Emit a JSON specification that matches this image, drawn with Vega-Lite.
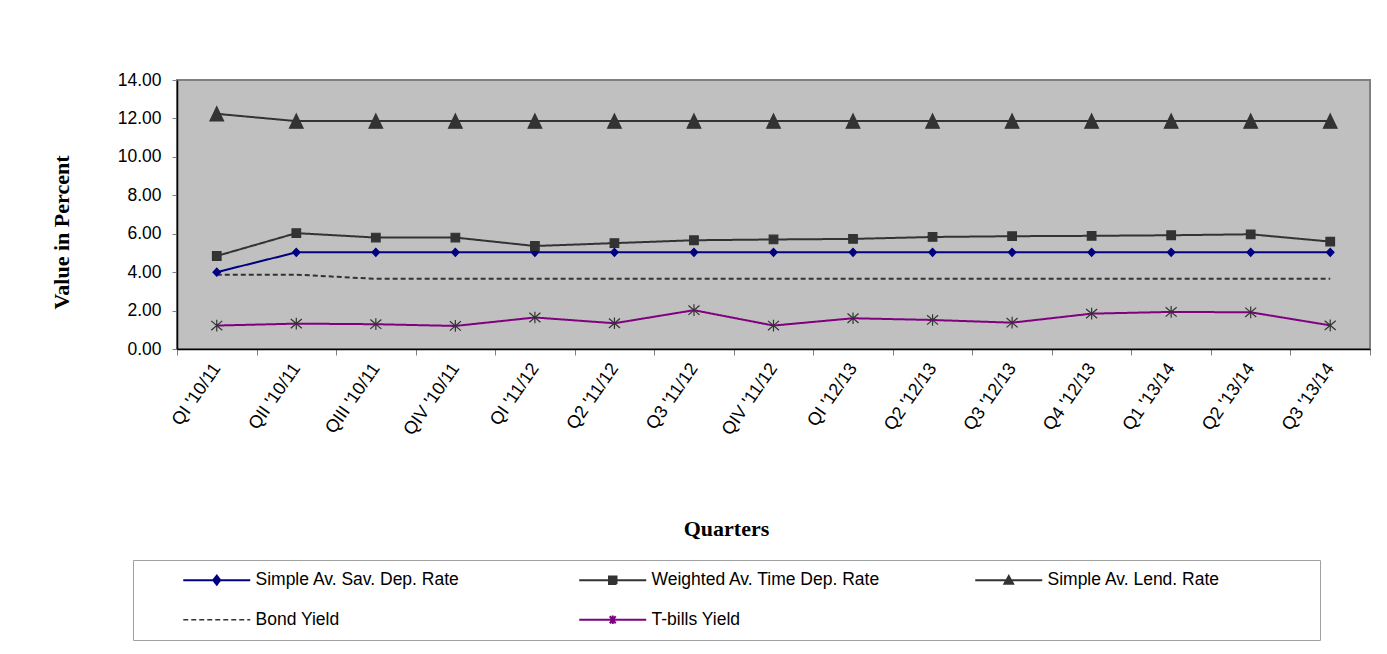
{
  "$schema": "https://vega.github.io/schema/vega-lite/v6.json",
  "autosize": {"type": "none"},
  "padding": {"left": 177, "top": 80, "right": 17, "bottom": 305},
  "width": 1193,
  "height": 269,
  "background": "white",
  "config": {
    "font": "Liberation Sans",
    "view": {"fill": "#c0c0c0", "stroke": "#808080", "strokeWidth": 2},
    "axis": {
      "domainColor": "#000000",
      "domainWidth": 1.5,
      "tickColor": "#808080",
      "tickWidth": 1,
      "labelColor": "#000000",
      "labelFont": "Liberation Sans",
      "labelFontSize": 17.5,
      "titleColor": "#000000",
      "titleFont": "Liberation Serif",
      "titleFontSize": 22,
      "titleFontWeight": "bold",
      "grid": false
    }
  },
  "data": {
    "values": [
      {"quarter": "QI '10/11", "series": "Simple Av. Sav. Dep. Rate", "value": 4.00},
      {"quarter": "QII '10/11", "series": "Simple Av. Sav. Dep. Rate", "value": 5.03},
      {"quarter": "QIII '10/11", "series": "Simple Av. Sav. Dep. Rate", "value": 5.03},
      {"quarter": "QIV '10/11", "series": "Simple Av. Sav. Dep. Rate", "value": 5.03},
      {"quarter": "QI '11/12", "series": "Simple Av. Sav. Dep. Rate", "value": 5.03},
      {"quarter": "Q2 '11/12", "series": "Simple Av. Sav. Dep. Rate", "value": 5.03},
      {"quarter": "Q3 '11/12", "series": "Simple Av. Sav. Dep. Rate", "value": 5.03},
      {"quarter": "QIV '11/12", "series": "Simple Av. Sav. Dep. Rate", "value": 5.03},
      {"quarter": "QI '12/13", "series": "Simple Av. Sav. Dep. Rate", "value": 5.03},
      {"quarter": "Q2 '12/13", "series": "Simple Av. Sav. Dep. Rate", "value": 5.03},
      {"quarter": "Q3 '12/13", "series": "Simple Av. Sav. Dep. Rate", "value": 5.03},
      {"quarter": "Q4 '12/13", "series": "Simple Av. Sav. Dep. Rate", "value": 5.03},
      {"quarter": "Q1 '13/14", "series": "Simple Av. Sav. Dep. Rate", "value": 5.03},
      {"quarter": "Q2 '13/14", "series": "Simple Av. Sav. Dep. Rate", "value": 5.03},
      {"quarter": "Q3 '13/14", "series": "Simple Av. Sav. Dep. Rate", "value": 5.03},

      {"quarter": "QI '10/11", "series": "Weighted Av. Time Dep. Rate", "value": 4.84},
      {"quarter": "QII '10/11", "series": "Weighted Av. Time Dep. Rate", "value": 6.03},
      {"quarter": "QIII '10/11", "series": "Weighted Av. Time Dep. Rate", "value": 5.80},
      {"quarter": "QIV '10/11", "series": "Weighted Av. Time Dep. Rate", "value": 5.80},
      {"quarter": "QI '11/12", "series": "Weighted Av. Time Dep. Rate", "value": 5.36},
      {"quarter": "Q2 '11/12", "series": "Weighted Av. Time Dep. Rate", "value": 5.51},
      {"quarter": "Q3 '11/12", "series": "Weighted Av. Time Dep. Rate", "value": 5.66},
      {"quarter": "QIV '11/12", "series": "Weighted Av. Time Dep. Rate", "value": 5.70},
      {"quarter": "QI '12/13", "series": "Weighted Av. Time Dep. Rate", "value": 5.73},
      {"quarter": "Q2 '12/13", "series": "Weighted Av. Time Dep. Rate", "value": 5.83},
      {"quarter": "Q3 '12/13", "series": "Weighted Av. Time Dep. Rate", "value": 5.87},
      {"quarter": "Q4 '12/13", "series": "Weighted Av. Time Dep. Rate", "value": 5.89},
      {"quarter": "Q1 '13/14", "series": "Weighted Av. Time Dep. Rate", "value": 5.92},
      {"quarter": "Q2 '13/14", "series": "Weighted Av. Time Dep. Rate", "value": 5.97},
      {"quarter": "Q3 '13/14", "series": "Weighted Av. Time Dep. Rate", "value": 5.59},

      {"quarter": "QI '10/11", "series": "Simple Av. Lend. Rate", "value": 12.24},
      {"quarter": "QII '10/11", "series": "Simple Av. Lend. Rate", "value": 11.86},
      {"quarter": "QIII '10/11", "series": "Simple Av. Lend. Rate", "value": 11.86},
      {"quarter": "QIV '10/11", "series": "Simple Av. Lend. Rate", "value": 11.86},
      {"quarter": "QI '11/12", "series": "Simple Av. Lend. Rate", "value": 11.86},
      {"quarter": "Q2 '11/12", "series": "Simple Av. Lend. Rate", "value": 11.86},
      {"quarter": "Q3 '11/12", "series": "Simple Av. Lend. Rate", "value": 11.86},
      {"quarter": "QIV '11/12", "series": "Simple Av. Lend. Rate", "value": 11.86},
      {"quarter": "QI '12/13", "series": "Simple Av. Lend. Rate", "value": 11.86},
      {"quarter": "Q2 '12/13", "series": "Simple Av. Lend. Rate", "value": 11.86},
      {"quarter": "Q3 '12/13", "series": "Simple Av. Lend. Rate", "value": 11.86},
      {"quarter": "Q4 '12/13", "series": "Simple Av. Lend. Rate", "value": 11.86},
      {"quarter": "Q1 '13/14", "series": "Simple Av. Lend. Rate", "value": 11.86},
      {"quarter": "Q2 '13/14", "series": "Simple Av. Lend. Rate", "value": 11.86},
      {"quarter": "Q3 '13/14", "series": "Simple Av. Lend. Rate", "value": 11.86},

      {"quarter": "QI '10/11", "series": "Bond Yield", "value": 3.87},
      {"quarter": "QII '10/11", "series": "Bond Yield", "value": 3.87},
      {"quarter": "QIII '10/11", "series": "Bond Yield", "value": 3.65},
      {"quarter": "QIV '10/11", "series": "Bond Yield", "value": 3.65},
      {"quarter": "QI '11/12", "series": "Bond Yield", "value": 3.65},
      {"quarter": "Q2 '11/12", "series": "Bond Yield", "value": 3.65},
      {"quarter": "Q3 '11/12", "series": "Bond Yield", "value": 3.65},
      {"quarter": "QIV '11/12", "series": "Bond Yield", "value": 3.65},
      {"quarter": "QI '12/13", "series": "Bond Yield", "value": 3.65},
      {"quarter": "Q2 '12/13", "series": "Bond Yield", "value": 3.65},
      {"quarter": "Q3 '12/13", "series": "Bond Yield", "value": 3.65},
      {"quarter": "Q4 '12/13", "series": "Bond Yield", "value": 3.65},
      {"quarter": "Q1 '13/14", "series": "Bond Yield", "value": 3.65},
      {"quarter": "Q2 '13/14", "series": "Bond Yield", "value": 3.65},
      {"quarter": "Q3 '13/14", "series": "Bond Yield", "value": 3.65},

      {"quarter": "QI '10/11", "series": "T-bills Yield", "value": 1.22},
      {"quarter": "QII '10/11", "series": "T-bills Yield", "value": 1.32},
      {"quarter": "QIII '10/11", "series": "T-bills Yield", "value": 1.29},
      {"quarter": "QIV '10/11", "series": "T-bills Yield", "value": 1.20},
      {"quarter": "QI '11/12", "series": "T-bills Yield", "value": 1.64},
      {"quarter": "Q2 '11/12", "series": "T-bills Yield", "value": 1.34},
      {"quarter": "Q3 '11/12", "series": "T-bills Yield", "value": 2.02},
      {"quarter": "QIV '11/12", "series": "T-bills Yield", "value": 1.22},
      {"quarter": "QI '12/13", "series": "T-bills Yield", "value": 1.60},
      {"quarter": "Q2 '12/13", "series": "T-bills Yield", "value": 1.51},
      {"quarter": "Q3 '12/13", "series": "T-bills Yield", "value": 1.37},
      {"quarter": "Q4 '12/13", "series": "T-bills Yield", "value": 1.84},
      {"quarter": "Q1 '13/14", "series": "T-bills Yield", "value": 1.93},
      {"quarter": "Q2 '13/14", "series": "T-bills Yield", "value": 1.91},
      {"quarter": "Q3 '13/14", "series": "T-bills Yield", "value": 1.23}
    ]
  },
  "encoding": {
    "x": {
      "field": "quarter",
      "type": "ordinal",
      "sort": null,
      "bandPosition": 0.5,
      "scale": {"type": "band", "paddingInner": 0, "paddingOuter": 0},
      "axis": {
        "title": "Quarters",
        "labelAngle": -55,
        "labelFontSize": 18,
        "labelPadding": 10,
        "tickBand": "extent",
        "tickSize": 6,
        "titleX": 549,
        "titleY": 186,
        "titleBaseline": "alphabetic"
      }
    },
    "y": {
      "field": "value",
      "type": "quantitative",
      "scale": {"domain": [0, 14], "nice": false, "zero": true},
      "axis": {
        "title": "Value in Percent",
        "values": [0, 2, 4, 6, 8, 10, 12, 14],
        "format": ".2f",
        "tickSize": 5,
        "labelPadding": 11,
        "titleX": -109,
        "titleY": 152,
        "titleAlign": "center",
        "titleBaseline": "alphabetic"
      }
    }
  },
  "layer": [
    {
      "mark": {"type": "line", "strokeWidth": 2},
      "encoding": {
        "color": {
          "field": "series",
          "type": "nominal",
          "scale": {
            "domain": ["Simple Av. Sav. Dep. Rate", "Weighted Av. Time Dep. Rate", "Simple Av. Lend. Rate", "Bond Yield", "T-bills Yield"],
            "range": ["#000080", "#333333", "#333333", "#333333", "#800080"]
          },
          "legend": {
            "title": null,
            "orient": "none",
            "direction": "horizontal",
            "legendX": -44,
            "legendY": 480,
            "columns": 3,
            "gridAlign": "all",
            "columnPadding": 23,
            "rowPadding": 21,
            "padding": 11,
            "strokeColor": "#a0a0a0",
            "fillColor": "#ffffff",
            "labelFont": "Liberation Sans",
            "labelFontSize": 17.5,
            "labelColor": "#000000",
            "labelLimit": 0,
            "symbolSize": 100,
            "symbolStrokeWidth": 2,
            "symbolOffset": 64,
            "labelOffset": 30,
            "encode": {
              "symbols": {
                "update": {
                  "shape": {"signal": "(datum.value === 'Simple Av. Sav. Dep. Rate' ? 'M-6.7,0L6.7,0M0,-0.9L0.7,0L0,0.9L-0.7,0Z' : datum.value === 'Weighted Av. Time Dep. Rate' ? 'M-6.7,0L6.7,0M-0.75,-0.75L0.75,-0.75L0.75,0.75L-0.75,0.75Z' : datum.value === 'Simple Av. Lend. Rate' ? 'M-6.7,0L6.7,0M0,-0.8L0.85,0.7L-0.85,0.7Z' : datum.value === 'T-bills Yield' ? 'M-6.7,0L6.7,0M-0.6,-0.7L0.6,0.7M-0.6,0.7L0.6,-0.7M0,-0.85L0,0.85' : 'M-6.7,0L6.7,0') + 'M59.2,0'"},
                  "fill": {"signal": "datum.value === 'Simple Av. Sav. Dep. Rate' ? '#000080' : (datum.value === 'Weighted Av. Time Dep. Rate' || datum.value === 'Simple Av. Lend. Rate') ? '#333333' : 'transparent'"},
                  "stroke": {"scale": "color", "field": "value"},
                  "strokeDash": {"signal": "datum.value === 'Bond Yield' ? [3, 2] : [1, 0]"},
                  "strokeWidth": {"signal": "datum.value === 'Bond Yield' ? 1.3 : 2"}
                }
              }
            }
          }
        },
        "strokeDash": {
          "field": "series",
          "type": "nominal",
          "scale": {
            "domain": ["Simple Av. Sav. Dep. Rate", "Weighted Av. Time Dep. Rate", "Simple Av. Lend. Rate", "Bond Yield", "T-bills Yield"],
            "range": [[1, 0], [1, 0], [1, 0], [5, 3], [1, 0]]
          },
          "legend": null
        }
      }
    },
    {
      "transform": [{"filter": "datum.series !== 'Bond Yield'"}],
      "mark": {"type": "point", "opacity": 1, "size": 169, "strokeWidth": 1.2},
      "encoding": {
        "shape": {
          "field": "series",
          "type": "nominal",
          "scale": {
            "domain": ["Simple Av. Sav. Dep. Rate", "Weighted Av. Time Dep. Rate", "Simple Av. Lend. Rate", "T-bills Yield"],
            "range": [
              "M0,-0.62L0.58,0L0,0.62L-0.58,0Z",
              "M-0.66,-0.66L0.66,-0.66L0.66,0.66L-0.66,0.66Z",
              "M0,-1.1L1.05,1.1L-1.05,1.1Z",
              "M-0.85,-0.72L0.85,0.72M-0.85,0.72L0.85,-0.72M0,-0.9L0,0.9"
            ]
          },
          "legend": null
        },
        "fill": {
          "field": "series",
          "type": "nominal",
          "scale": {
            "domain": ["Simple Av. Sav. Dep. Rate", "Weighted Av. Time Dep. Rate", "Simple Av. Lend. Rate", "T-bills Yield"],
            "range": ["#000080", "#333333", "#333333", "transparent"]
          },
          "legend": null
        },
        "stroke": {
          "field": "series",
          "type": "nominal",
          "scale": {
            "domain": ["Simple Av. Sav. Dep. Rate", "Weighted Av. Time Dep. Rate", "Simple Av. Lend. Rate", "T-bills Yield"],
            "range": ["#000080", "#333333", "#333333", "#333333"]
          },
          "legend": null
        }
      }
    }
  ]
}
